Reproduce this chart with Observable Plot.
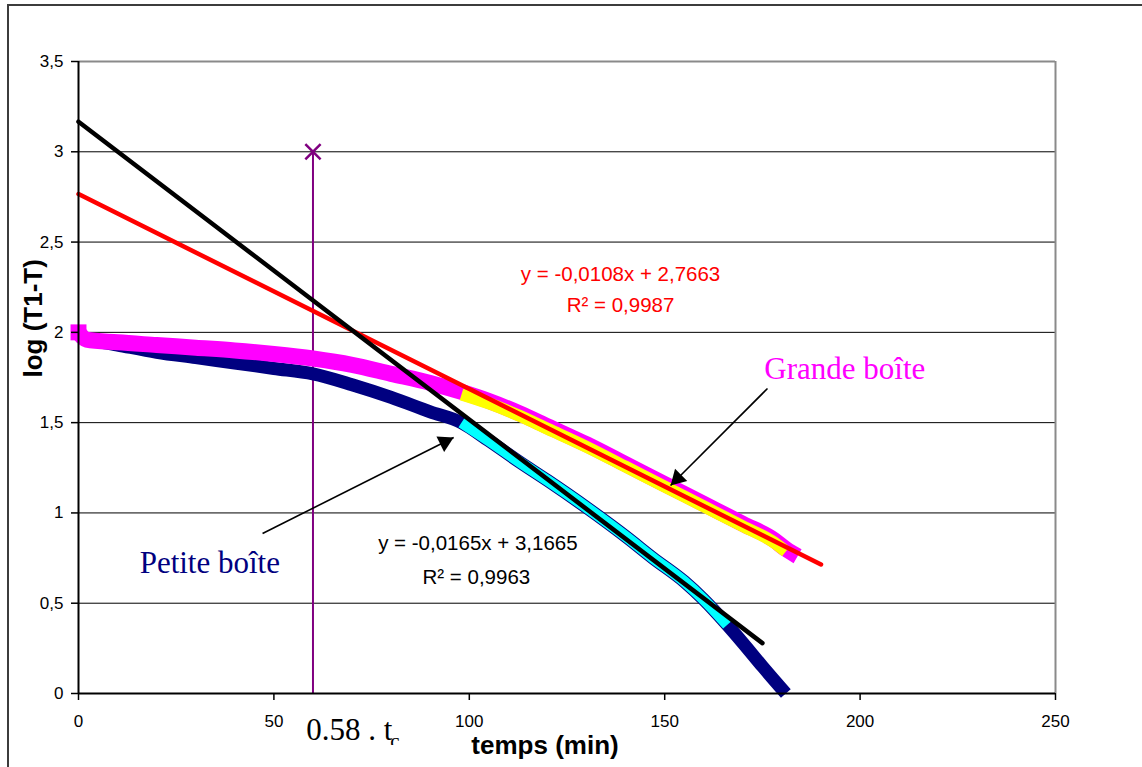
<!DOCTYPE html>
<html><head><meta charset="utf-8">
<script src="https://cdn.jsdelivr.net/npm/d3@7"></script>
<script src="https://cdn.jsdelivr.net/npm/@observablehq/plot@0.6"></script>
<style>
html,body{margin:0;padding:0;background:#fff;overflow:hidden}
#wrap{position:relative;width:1142px;height:767px;overflow:hidden}
#border{position:absolute;left:7px;top:4px;width:1300px;height:900px;border-left:2px solid #3c3c3c;border-top:2px solid #3c3c3c;pointer-events:none}
</style></head><body><div id="wrap"><div id="chart"></div><div id="border"></div></div>
<script>
// ---- data ----
const petiteT   = [0, 5, 10, 20, 30, 40, 50, 60, 70, 80, 90, 98, 105, 113, 120, 130, 140, 147, 155, 160, 166, 170, 175, 181];
const petiteLog = [1.98, 1.95, 1.93, 1.89, 1.86, 1.83, 1.80, 1.77, 1.71, 1.64, 1.56, 1.50, 1.40, 1.28, 1.18, 1.03, 0.87, 0.75, 0.62, 0.52, 0.38, 0.28, 0.15, 0.0];
const petiteFitRange = [98, 166];
const grandeT   = [0, 2, 10, 20, 30, 40, 50, 60, 70, 80, 90, 98, 105, 113, 120, 130, 140, 150, 160, 170, 178, 181, 184];
const grandeLog = [2.00, 1.96, 1.945, 1.93, 1.915, 1.90, 1.88, 1.855, 1.82, 1.77, 1.72, 1.67, 1.62, 1.55, 1.48, 1.38, 1.27, 1.16, 1.05, 0.94, 0.85, 0.80, 0.76];
const grandeFitRange = [98, 181];
// trend lines (Excel linear fits) : y = slope*x + intercept, drawn from 0 to endT
const trendSlope = [-0.0165, -0.0108];
const trendIntercept = [3.1665, 2.7663];
const trendEndT = [175, 190];
const trendEq = ["y = -0,0165x + 3,1665", "y = -0,0108x + 2,7663"];
const trendR2 = ["R² = 0,9963", "R² = 0,9987"];
const seriesNames = ["Petite boîte", "Grande boîte"];
const markerT = 60, markerLog = 3, markerLabel = "0.58 . t", markerSub = "c";
const xTicks = [0, 50, 100, 150, 200, 250];
const yTicks = [0, 0.5, 1, 1.5, 2, 2.5, 3, 3.5];
const xTitle = "temps (min)", yTitle = "log (T1-T)";

// ---- build tables ----
const petite = petiteT.map((t, i) => ({t, v: petiteLog[i]}));
const grande = grandeT.map((t, i) => ({t, v: grandeLog[i]}));
const petiteFit = petite.filter(d => d.t >= petiteFitRange[0] && d.t <= petiteFitRange[1]);
const grandeFit = grande.filter(d => d.t >= grandeFitRange[0] && d.t <= grandeFitRange[1]);
const trend = k => [0, trendEndT[k]].map(t => ({t, v: trendSlope[k] * t + trendIntercept[k]}));

const W = 1142, H = 767, mL = 78, mR = 87, mT = 61, mB = 74;
const fw = W - mL - mR, fh = H - mT - mB;
const X0 = 0, X1 = 250, Y0 = 0, Y1 = 3.5;

// annotation arrows (data units)
const arrows = [
  {x1: 47.1, y1: 0.886, x2: 96.0, y2: 1.418},
  {x1: 176.3, y1: 1.689, x2: 151.5, y2: 1.152}
];
function arrowHead(a) {
  const px = (a.x2 - a.x1) * fw / (X1 - X0), py = -(a.y2 - a.y1) * fh / (Y1 - Y0);
  const L = Math.hypot(px, py), ux = px / L, uy = py / L;
  const back = 10;
  return Plot.dot([a], {x: "x2", y: "y2", symbol: "triangle", r: 6.4, fill: "black", stroke: "none",
    rotate: Math.atan2(ux, -uy) * 180 / Math.PI, dx: -ux * back, dy: -uy * back});
}

const sans = "Liberation Sans, Arial, sans-serif";
const serif = "Liberation Serif, Times New Roman, serif";
const fmt = d => String(d).replace(".", ",");
const band = {x: "t", y: "v", curve: "monotone-x", strokeLinejoin: "round", strokeLinecap: "butt"};

const plot = Plot.plot({
  width: W, height: H,
  marginLeft: mL, marginRight: mR, marginTop: mT, marginBottom: mB,
  style: {fontFamily: sans, color: "black", background: "transparent", overflow: "visible"},
  x: {domain: [X0, X1]},
  y: {domain: [Y0, Y1]},
  marks: [
    Plot.gridY(yTicks.filter(v => v > Y0 && v < Y1), {stroke: "black", strokeOpacity: 1, strokeWidth: 1}),
    Plot.ruleY([Y1], {stroke: "#8a8a8a", strokeWidth: 2}),
    Plot.ruleX([X1], {stroke: "#8a8a8a", strokeWidth: 2}),
    // purple marker at 0.58 tc
    Plot.ruleX([markerT], {y1: 0, y2: markerLog, stroke: "#800080", strokeWidth: 2}),
    Plot.dot([{t: markerT, v: markerLog}], {x: "t", y: "v", symbol: "times", r: 7, stroke: "#800080", strokeWidth: 2.5}),
    // data
    Plot.line(petite, {...band, stroke: "#000080", strokeWidth: 13}),
    Plot.line(petiteFit, {...band, stroke: "#00FFFF", strokeWidth: 11}),
    Plot.line(grande, {...band, stroke: "#FF00FF", strokeWidth: 16}),
    Plot.dot(grande.slice(0, 1), {x: "t", y: "v", symbol: "square", r: 9, fill: "#FF00FF"}),
    Plot.line(grandeFit, {...band, stroke: "#FFFF00", strokeWidth: 12, dy: 2.5}),
    // trend lines
    Plot.line(trend(1), {x: "t", y: "v", stroke: "#FF0000", strokeWidth: 4.5, strokeLinecap: "round"}),
    Plot.line(trend(0), {x: "t", y: "v", stroke: "black", strokeWidth: 4.5, strokeLinecap: "round"}),
    // axes
    Plot.ruleX([X0], {stroke: "black", strokeWidth: 2}),
    Plot.ruleY([Y0], {stroke: "black", strokeWidth: 2}),
    Plot.axisY(yTicks, {tickSize: 7, tickPadding: 8, tickFormat: fmt, fontSize: 17, label: null, strokeWidth: 1.5}),
    Plot.axisX(xTicks, {tickSize: 7, tickPadding: 14, tickFormat: fmt, fontSize: 17, label: null, strokeWidth: 1.5}),
    Plot.text([xTitle], {frameAnchor: "bottom", dx: -22, dy: 60, lineAnchor: "bottom", fontSize: 26, fontWeight: "bold"}),
    Plot.text([yTitle], {frameAnchor: "left", dx: -37, rotate: -90, lineAnchor: "bottom", fontSize: 26, fontWeight: "bold"}),
    // equations
    Plot.text([{x: 138.7, y: 2.287, s: trendEq[1]}, {x: 138.7, y: 2.11, s: trendR2[1]}],
      {x: "x", y: "y", text: "s", fill: "#FF0000", fontSize: 20.5, lineAnchor: "bottom"}),
    Plot.text([{x: 102.2, y: 0.792, s: trendEq[0]}, {x: 101.8, y: 0.609, s: trendR2[0]}],
      {x: "x", y: "y", text: "s", fill: "black", fontSize: 20.5, lineAnchor: "bottom"}),
    // series labels
    Plot.text([{x: 196.1, y: 1.744, s: seriesNames[1]}], {x: "x", y: "y", text: "s", fill: "#FF00FF", fontSize: 31, fontFamily: serif, lineAnchor: "bottom"}),
    Plot.text([{x: 33.6, y: 0.67, s: seriesNames[0]}], {x: "x", y: "y", text: "s", fill: "#000080", fontSize: 31, fontFamily: serif, lineAnchor: "bottom"}),
    Plot.text([{x: markerT - 1.7, y: -0.26, s: markerLabel}], {x: "x", y: "y", text: "s", fill: "black", fontSize: 31, fontFamily: serif, lineAnchor: "bottom", textAnchor: "start"}),
    Plot.text([{x: markerT - 1.7, y: -0.26, s: markerSub}], {x: "x", y: "y", text: "s", fill: "black", fontSize: 21, fontFamily: serif, lineAnchor: "bottom", textAnchor: "start", dx: 84, dy: 8}),
    // arrows
    ...arrows.map(a => Plot.link([a], {x1: "x1", y1: "y1", x2: "x2", y2: "y2", stroke: "black", strokeWidth: 1.6})),
    ...arrows.map(arrowHead)
  ]
});

// clip the subscript like the original text box
const svgNode = plot.tagName.toLowerCase() === "svg" ? plot : plot.querySelector("svg");
const svg = d3.select(svgNode);
svg.append("defs").append("clipPath").attr("id", "subclip")
  .append("rect").attr("x", 0).attr("y", 0).attr("width", W).attr("height", 745);
svg.selectAll("text").filter(function() { return this.textContent === markerSub; }).each(function() {
  const markG = this.closest("g[aria-label]") || this.parentNode;
  const wrapper = document.createElementNS("http://www.w3.org/2000/svg", "g");
  markG.parentNode.insertBefore(wrapper, markG);
  wrapper.appendChild(markG);
  wrapper.setAttribute("clip-path", "url(#subclip)");
});

document.getElementById("chart").appendChild(plot);
</script></body></html>
